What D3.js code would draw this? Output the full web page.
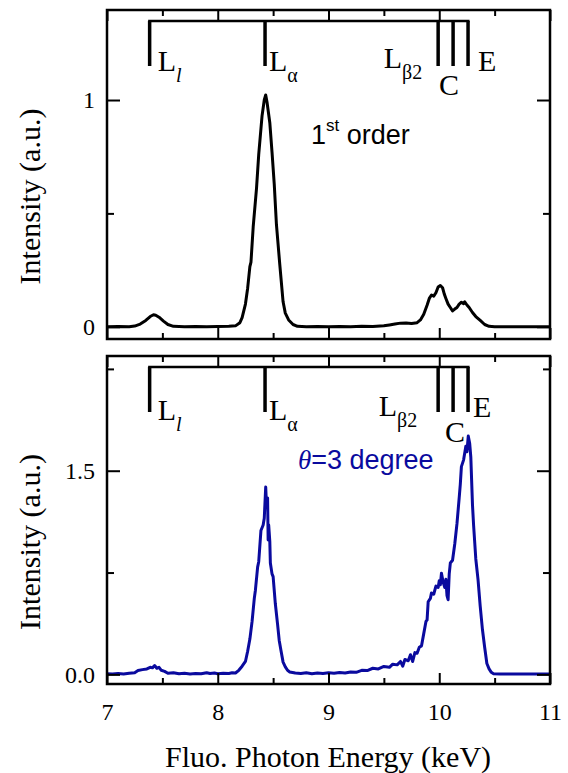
<!DOCTYPE html>
<html>
<head>
<meta charset="utf-8">
<script src="https://cdn.jsdelivr.net/npm/d3@7"></script>
<style>
  body { margin: 0; background: #fff; }
  svg { display: block; }
</style>
</head>
<body>
<script>
const width = 568;
const height = 773;

// spectra (keV, a.u.)
const firstOrderEnergy = [7.00, 7.10, 7.20, 7.25, 7.30, 7.35, 7.39, 7.42, 7.44, 7.47, 7.51, 7.55, 7.60, 7.70, 7.80, 7.90,
  8.00, 8.10, 8.16, 8.20, 8.22, 8.25, 8.27, 8.29, 8.30, 8.32, 8.35, 8.37, 8.40, 8.42, 8.433, 8.445, 8.47, 8.49, 8.51,
  8.53, 8.56, 8.59, 8.61, 8.64, 8.68, 8.72, 8.80, 8.90, 9.00, 9.10, 9.20, 9.30, 9.40, 9.50, 9.55, 9.60, 9.65, 9.70,
  9.75, 9.80, 9.83, 9.86, 9.89, 9.91, 9.93, 9.95, 9.97, 9.99, 10.01, 10.03, 10.045, 10.06, 10.08, 10.10, 10.12, 10.14,
  10.16, 10.18, 10.20, 10.22, 10.23, 10.25, 10.27, 10.30, 10.33, 10.37, 10.41, 10.45, 10.50, 10.70, 11.00];
const firstOrderIntensity = [0.000, 0.001, 0.000, 0.003, 0.012, 0.028, 0.045, 0.053, 0.051, 0.042, 0.025, 0.010, 0.002, 0.000, 0.001, 0.000,
  0.001, 0.002, 0.004, 0.018, 0.040, 0.100, 0.170, 0.265, 0.285, 0.440, 0.610, 0.760, 0.930, 1.000, 1.022, 0.990, 0.900, 0.770, 0.630,
  0.450, 0.275, 0.110, 0.060, 0.030, 0.010, 0.002, 0.000, 0.001, 0.000, 0.001, 0.000, 0.002, 0.001, 0.004, 0.008, 0.012, 0.016, 0.017,
  0.014, 0.018, 0.030, 0.055, 0.095, 0.125, 0.140, 0.135, 0.150, 0.175, 0.182, 0.172, 0.145, 0.125, 0.100, 0.085, 0.070, 0.078,
  0.085, 0.100, 0.108, 0.102, 0.110, 0.096, 0.085, 0.063, 0.045, 0.028, 0.010, 0.002, 0.000, 0.000, 0.000];

const thetaEnergy = [7.00, 7.05, 7.10, 7.15, 7.20, 7.25, 7.28, 7.32, 7.36, 7.39, 7.41, 7.43, 7.45, 7.47, 7.49, 7.52, 7.55, 7.60,
  7.65, 7.70, 7.75, 7.80, 7.85, 7.90, 7.93, 7.97, 8.00, 8.05, 8.10, 8.13, 8.16, 8.19, 8.22, 8.25, 8.27, 8.29, 8.31, 8.33,
  8.34, 8.36, 8.37, 8.39, 8.41, 8.42, 8.433, 8.44, 8.45, 8.455, 8.46, 8.47, 8.475, 8.49, 8.50, 8.52, 8.54, 8.555, 8.57,
  8.59, 8.61, 8.63, 8.65, 8.70, 8.75, 8.80, 8.85, 8.90, 8.95, 9.00, 9.05, 9.10, 9.15, 9.20, 9.25, 9.30, 9.35, 9.40, 9.45,
  9.50, 9.55, 9.58, 9.62, 9.65, 9.67, 9.69, 9.72, 9.74, 9.76, 9.78, 9.80, 9.82, 9.84, 9.86, 9.88, 9.89, 9.90, 9.92, 9.93,
  9.95, 9.97, 9.99, 10.00, 10.01, 10.02, 10.035, 10.05, 10.06, 10.07, 10.08, 10.09, 10.10, 10.12, 10.14, 10.16, 10.18,
  10.19, 10.20, 10.22, 10.24, 10.25, 10.262, 10.275, 10.285, 10.30, 10.31, 10.33, 10.35, 10.37, 10.39, 10.41, 10.43,
  10.45, 10.47, 10.49, 10.55, 10.70, 10.85, 11.00];
const thetaIntensity = [0.005, 0.003, 0.006, 0.002, 0.008, 0.012, 0.028, 0.035, 0.040, 0.052, 0.048, 0.065, 0.045, 0.052, 0.030, 0.022, 0.008, 0.012,
  0.004, 0.008, 0.003, 0.007, 0.004, 0.012, 0.006, 0.010, 0.004, 0.008, 0.006, 0.012, 0.010, 0.030, 0.060, 0.095, 0.170, 0.260, 0.390, 0.560,
  0.620, 0.790, 0.830, 1.060, 1.100, 1.150, 1.380, 1.250, 1.300, 0.990, 1.100, 0.980, 0.820, 0.740, 0.720, 0.520, 0.370, 0.250, 0.180,
  0.090, 0.055, 0.030, 0.018, 0.010, 0.006, 0.012, 0.005, 0.010, 0.006, 0.012, 0.008, 0.014, 0.010, 0.018, 0.015, 0.030, 0.028, 0.045, 0.040,
  0.058, 0.052, 0.075, 0.070, 0.095, 0.060, 0.110, 0.100, 0.145, 0.095, 0.160, 0.155, 0.200, 0.210, 0.300, 0.390, 0.400, 0.535, 0.560, 0.600,
  0.590, 0.650, 0.640, 0.690, 0.660, 0.745, 0.680, 0.640, 0.700, 0.580, 0.550, 0.740, 0.820, 0.840, 0.960, 1.110, 1.300,
  1.400, 1.530, 1.580, 1.680, 1.640, 1.755, 1.700, 1.600, 1.250, 1.100, 0.850, 0.700, 0.500, 0.330, 0.200, 0.080,
  0.040, 0.015, 0.005, 0.003, 0.002, 0.003, 0.003];

// emission line markers
const markerEnergy = [7.385, 8.427, 9.99, 10.125, 10.26];
const markerMain = ['L', 'L', 'L', 'C', 'E'];
const markerSub = ['l', '\u03b1', '\u03b22', '', ''];

// ticks
const xMajor = [7, 8, 9, 10, 11];
const xMinor = [7.5, 8.5, 9.5, 10.5];
const topYMajor = [0, 1];
const topYMinor = [0.5];
const bottomYMajor = [0, 1.5];
const bottomYMinor = [0.75, 2.25];

const blue = '#0a0a9e';
const serif = '"Liberation Serif", "Times New Roman", serif';
const sans = '"Liberation Sans", Arial, sans-serif';

const svg = d3.select('body').append('svg')
  .attr('width', width)
  .attr('height', height);

const x = d3.scaleLinear().domain([7, 11]).range([107, 550]);

function drawPanel(p) {
  const y = d3.scaleLinear().domain(p.yDomain).range([p.bottom, p.top]);
  const g = svg.append('g');

  // spectrum
  const pts = p.energy.map((e, i) => [e, p.intensity[i]]);
  g.append('path')
    .datum(pts)
    .attr('fill', 'none')
    .attr('stroke', p.color)
    .attr('stroke-width', 3)
    .attr('stroke-linejoin', 'round')
    .attr('d', d3.line().x(d => x(d[0])).y(d => y(d[1])));

  // axes, ticks pointing in
  const axes = [
    [d3.axisBottom(x).tickValues(xMajor).tickSize(-11).tickPadding(19)
      .tickFormat(p.xLabels ? d3.format('d') : ''), `translate(0,${p.bottom})`],
    [d3.axisBottom(x).tickValues(xMinor).tickSize(-6).tickFormat(''), `translate(0,${p.bottom})`],
    [d3.axisTop(x).tickValues(xMajor).tickSize(-11).tickFormat(''), `translate(0,${p.top})`],
    [d3.axisTop(x).tickValues(xMinor).tickSize(-6).tickFormat(''), `translate(0,${p.top})`],
    [d3.axisLeft(y).tickValues(p.yMajor).tickSize(-13).tickPadding(12).tickFormat(p.yFormat), 'translate(107,0)'],
    [d3.axisLeft(y).tickValues(p.yMinor).tickSize(-7).tickFormat(''), 'translate(107,0)'],
    [d3.axisRight(y).tickValues(p.yMajor).tickSize(-13).tickFormat(''), 'translate(550,0)'],
    [d3.axisRight(y).tickValues(p.yMinor).tickSize(-7).tickFormat(''), 'translate(550,0)']
  ];
  axes.forEach(([ax, tr]) => {
    const a = g.append('g').attr('transform', tr).call(ax);
    a.attr('font-family', null).attr('font-size', null);
    a.select('.domain').remove();
    a.selectAll('line').attr('stroke', '#000').attr('stroke-width', 2);
    a.selectAll('text')
      .attr('fill', '#000')
      .style('font-family', serif)
      .style('font-size', '24px');
  });

  // frame
  g.append('rect')
    .attr('x', 107).attr('y', p.top)
    .attr('width', 443).attr('height', p.bottom - p.top)
    .attr('fill', 'none')
    .attr('stroke', '#000')
    .attr('stroke-width', 2.5);

  // marker bracket
  const by = p.top + 11;
  g.append('line')
    .attr('x1', x(markerEnergy[0]) - 1.5).attr('x2', x(markerEnergy[markerEnergy.length - 1]) + 1.5)
    .attr('y1', by).attr('y2', by)
    .attr('stroke', '#000').attr('stroke-width', 2.5);
  g.selectAll('.bar')
    .data(markerEnergy)
    .join('line')
    .attr('x1', d => x(d)).attr('x2', d => x(d))
    .attr('y1', by).attr('y2', p.top + 56)
    .attr('stroke', '#000').attr('stroke-width', 3.5);

  markerEnergy.forEach((e, i) => {
    const lay = p.labelLayout[i];
    const t = g.append('text')
      .attr('x', x(e) + lay.dx)
      .attr('y', p.top + lay.dy)
      .attr('text-anchor', lay.anchor)
      .style('font-family', serif)
      .style('font-size', '30px')
      .attr('fill', '#000');
    t.append('tspan').text(markerMain[i]);
    if (markerSub[i]) {
      t.append('tspan')
        .attr('dy', 11)
        .style('font-size', '20px')
        .style('font-style', markerSub[i] === 'l' ? 'italic' : 'normal')
        .text(markerSub[i]);
    }
  });

  // y title
  g.append('text')
    .attr('transform', `translate(40,${(p.top + p.bottom) / 2 + 22}) rotate(-90)`)
    .attr('text-anchor', 'middle')
    .style('font-family', serif)
    .style('font-size', '30px')
    .text('Intensity (a.u.)');

  return g;
}

const topPanel = drawPanel({
  top: 10, bottom: 339,
  yDomain: [-0.054, 1.397],
  energy: firstOrderEnergy, intensity: firstOrderIntensity,
  color: '#000',
  xLabels: false,
  yMajor: topYMajor, yMinor: topYMinor, yFormat: d3.format('d'),
  labelLayout: [
    { dx: 8, dy: 61, anchor: 'start' },
    { dx: 4, dy: 61, anchor: 'start' },
    { dx: -16, dy: 58, anchor: 'end' },
    { dx: -4, dy: 85, anchor: 'middle' },
    { dx: 10, dy: 61, anchor: 'start' }
  ]
});

const bottomPanel = drawPanel({
  top: 356, bottom: 684,
  yDomain: [-0.071, 2.345],
  energy: thetaEnergy, intensity: thetaIntensity,
  color: blue,
  xLabels: true,
  yMajor: bottomYMajor, yMinor: bottomYMinor, yFormat: d3.format('.1f'),
  labelLayout: [
    { dx: 8, dy: 64, anchor: 'start' },
    { dx: 4, dy: 64, anchor: 'start' },
    { dx: -21, dy: 60, anchor: 'end' },
    { dx: 2, dy: 86, anchor: 'middle' },
    { dx: 5, dy: 61, anchor: 'start' }
  ]
});

// panel notes
const note1 = topPanel.append('text')
  .attr('x', 311).attr('y', 144)
  .style('font-family', sans)
  .style('font-size', '27px');
note1.append('tspan').text('1');
note1.append('tspan').attr('dy', -13).style('font-size', '17px').text('st');
note1.append('tspan').attr('dy', 13).text(' order');

const note2 = bottomPanel.append('text')
  .attr('x', 298).attr('y', 469)
  .attr('fill', blue)
  .style('font-family', sans)
  .style('font-size', '27px');
note2.append('tspan').style('font-family', serif).style('font-style', 'italic').text('\u03b8');
note2.append('tspan').text('=3 degree');

// x title
svg.append('text')
  .attr('x', 328).attr('y', 767)
  .attr('text-anchor', 'middle')
  .style('font-family', serif)
  .style('font-size', '30px')
  .text('Fluo. Photon Energy (keV)');
</script>
</body>
</html>
